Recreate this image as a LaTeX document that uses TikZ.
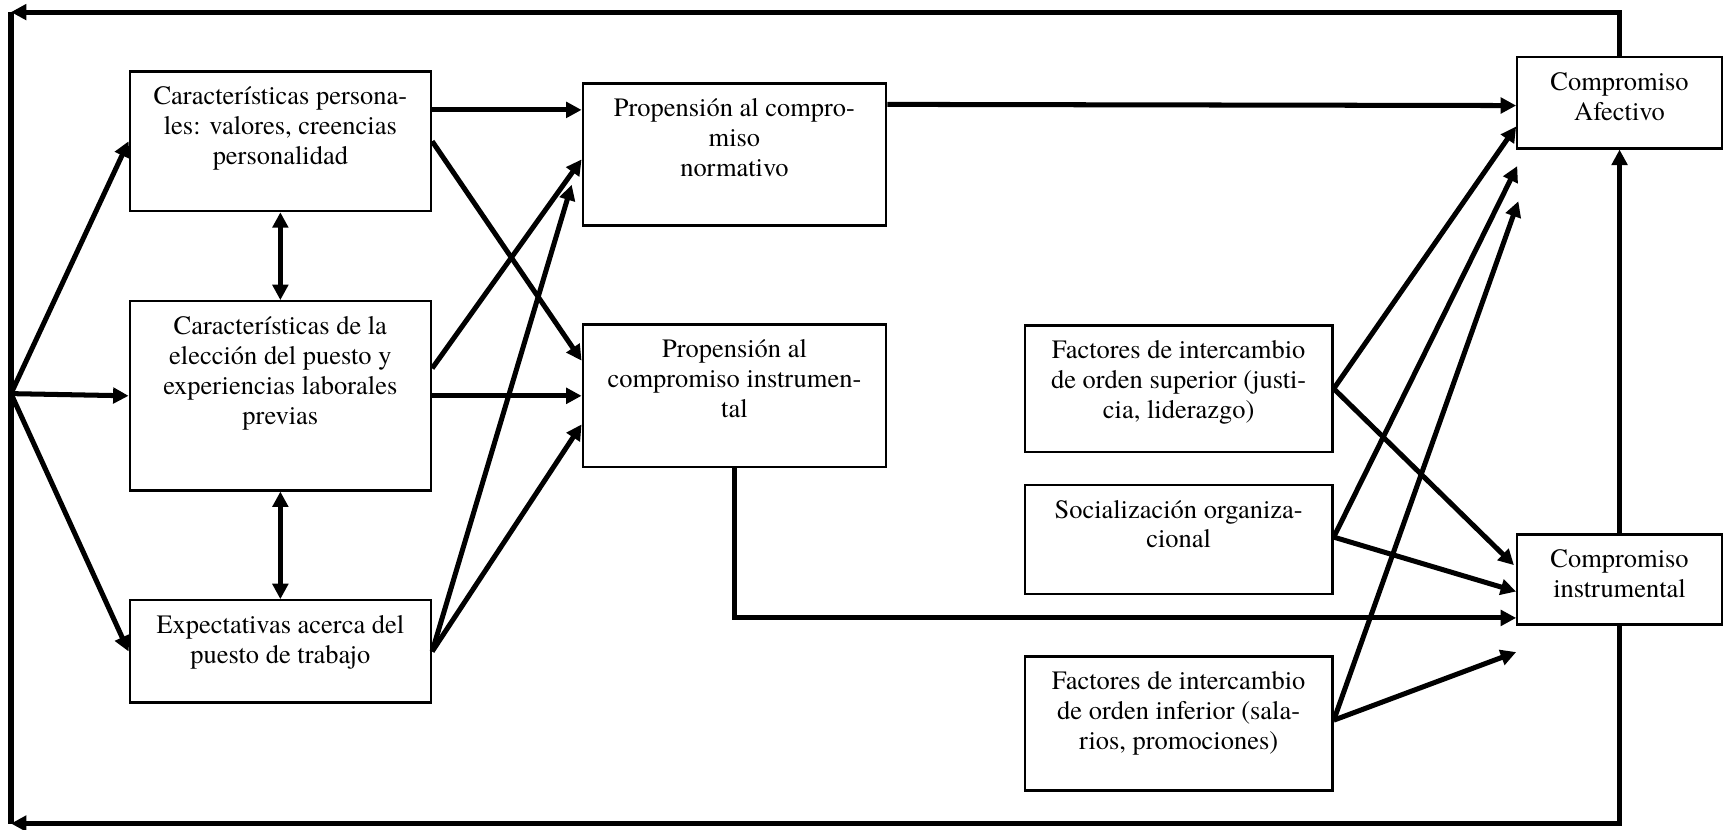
\documentclass[tikz,border=0pt]{standalone}
\usepackage{fontspec}
\setmainfont{TeX Gyre Termes}
\usetikzlibrary{arrows.meta,calc,fit}
\begin{document}
\begin{tikzpicture}[x=0.02cm,y=-0.02cm,
  box/.style={draw, line width=1.2pt, inner sep=0pt},
  lbl/.style={anchor=north, align=center, inner sep=0pt, yshift=-6.7pt,
              font=\fontsize{13.7}{15.5}\selectfont},
  conn/.style={line width=2.6pt, -{Triangle[length=8pt,width=8pt]}},
  twoway/.style={line width=2.6pt,
     {Triangle[length=8pt,width=8pt]}-{Triangle[length=8pt,width=8pt]}},
  plain/.style={line width=2.6pt}]
\useasboundingbox (0,0) rectangle (1568,754);

% boxes
\node[box, fit={(118,65) (392,192)},
  label={[lbl]north:{\strut Características persona-\\les: valores, creencias\\personalidad}}] (b1) {};
\node[box, fit={(118,274) (392,446)},
  label={[lbl]north:{\strut Características de la\\elección del puesto y\\experiencias laborales\\previas}}] (b2) {};
\node[box, fit={(118,546) (392,639)},
  label={[lbl]north:{\strut Expectativas acerca del\\puesto de trabajo}}] (b3) {};
\node[box, fit={(530,76) (806,205)},
  label={[lbl]north:{\strut Propensión al compro-\\miso\\normativo}}] (p1) {};
\node[box, fit={(530,295) (806,425)},
  label={[lbl]north:{\strut Propensión al\\compromiso instrumen-\\tal}}] (p2) {};
\node[box, fit={(932,296) (1212,411)},
  label={[lbl]north:{\strut Factores de intercambio\\de orden superior (justi-\\cia, liderazgo)}}] (f1) {};
\node[box, fit={(932,441) (1212,540)},
  label={[lbl]north:{\strut Socialización organiza-\\cional}}] (s) {};
\node[box, fit={(932,597) (1212,719)},
  label={[lbl]north:{\strut Factores de intercambio\\de orden inferior (sala-\\rios, promociones)}}] (f2) {};
\node[box, fit={(1380,52) (1566,135)},
  label={[lbl]north:{\strut Compromiso\\Afectivo}}] (ca) {};
\node[box, fit={(1380,486) (1566,568)},
  label={[lbl]north:{\strut Compromiso\\instrumental}}] (ci) {};

% loop corners and hub
\coordinate (tl) at (10,11);
\coordinate (bl) at (10,749);
\coordinate (hub) at (10,358);

% feedback loop
\draw[conn] (ca.north) |- (tl);
\draw[conn] (ci.south) |- (bl);
\draw[plain] (tl) -- (bl);
\draw[conn] (ci.north) -- (ca.south);

% fan into antecedents
\draw[conn] (hub) -- (b1.west);
\draw[conn] (hub) -- (b2.west);
\draw[conn] (hub) -- (b3.west);
\draw[twoway] (b1.south) -- (b2.north);
\draw[twoway] (b2.south) -- (b3.north);

% antecedents to propensities
\draw[conn] ($(b1.north east)+(0,36)$) -- ($(p1.north west)+(0,25)$);
\draw[conn] (b1.east) -- ($(p2.west)+(0,-32)$);
\draw[conn] ($(b2.east)+(0,-25)$) -- ($(p1.west)+(0,4.5)$);
\draw[conn] (b2.east) -- (p2.west);
\draw[conn] (b3.east) -- ($(p1.west)+(-9,27.5)$);
\draw[conn] (b3.east) -- ($(p2.west)+(0,26)$);

% propensities to commitment
\draw[conn] ($(p1.north east)+(0,20)$) -- ($(ca.west)+(0,2.5)$);
\draw[conn] (p2.south) |- ($(ci.west)+(0,35)$);

% exchange factors and socialization
\draw[conn] (f1.east) -- ($(ca.west)+(0,21.5)$);
\draw[conn] (f1.east) -- ($(ci.west)+(-2,-13)$);
\draw[conn] ($(s.east)+(0,-2)$) -- ($(ca.south west)+(1,15)$);
\draw[conn] ($(s.east)+(0,-2)$) -- ($(ci.west)+(0,11)$);
\draw[conn] ($(f2.east)+(0,-3)$) -- ($(ca.south west)+(2,47)$);
\draw[conn] ($(f2.east)+(0,-3)$) -- ($(ci.south west)+(0,24)$);
\end{tikzpicture}
\end{document}
